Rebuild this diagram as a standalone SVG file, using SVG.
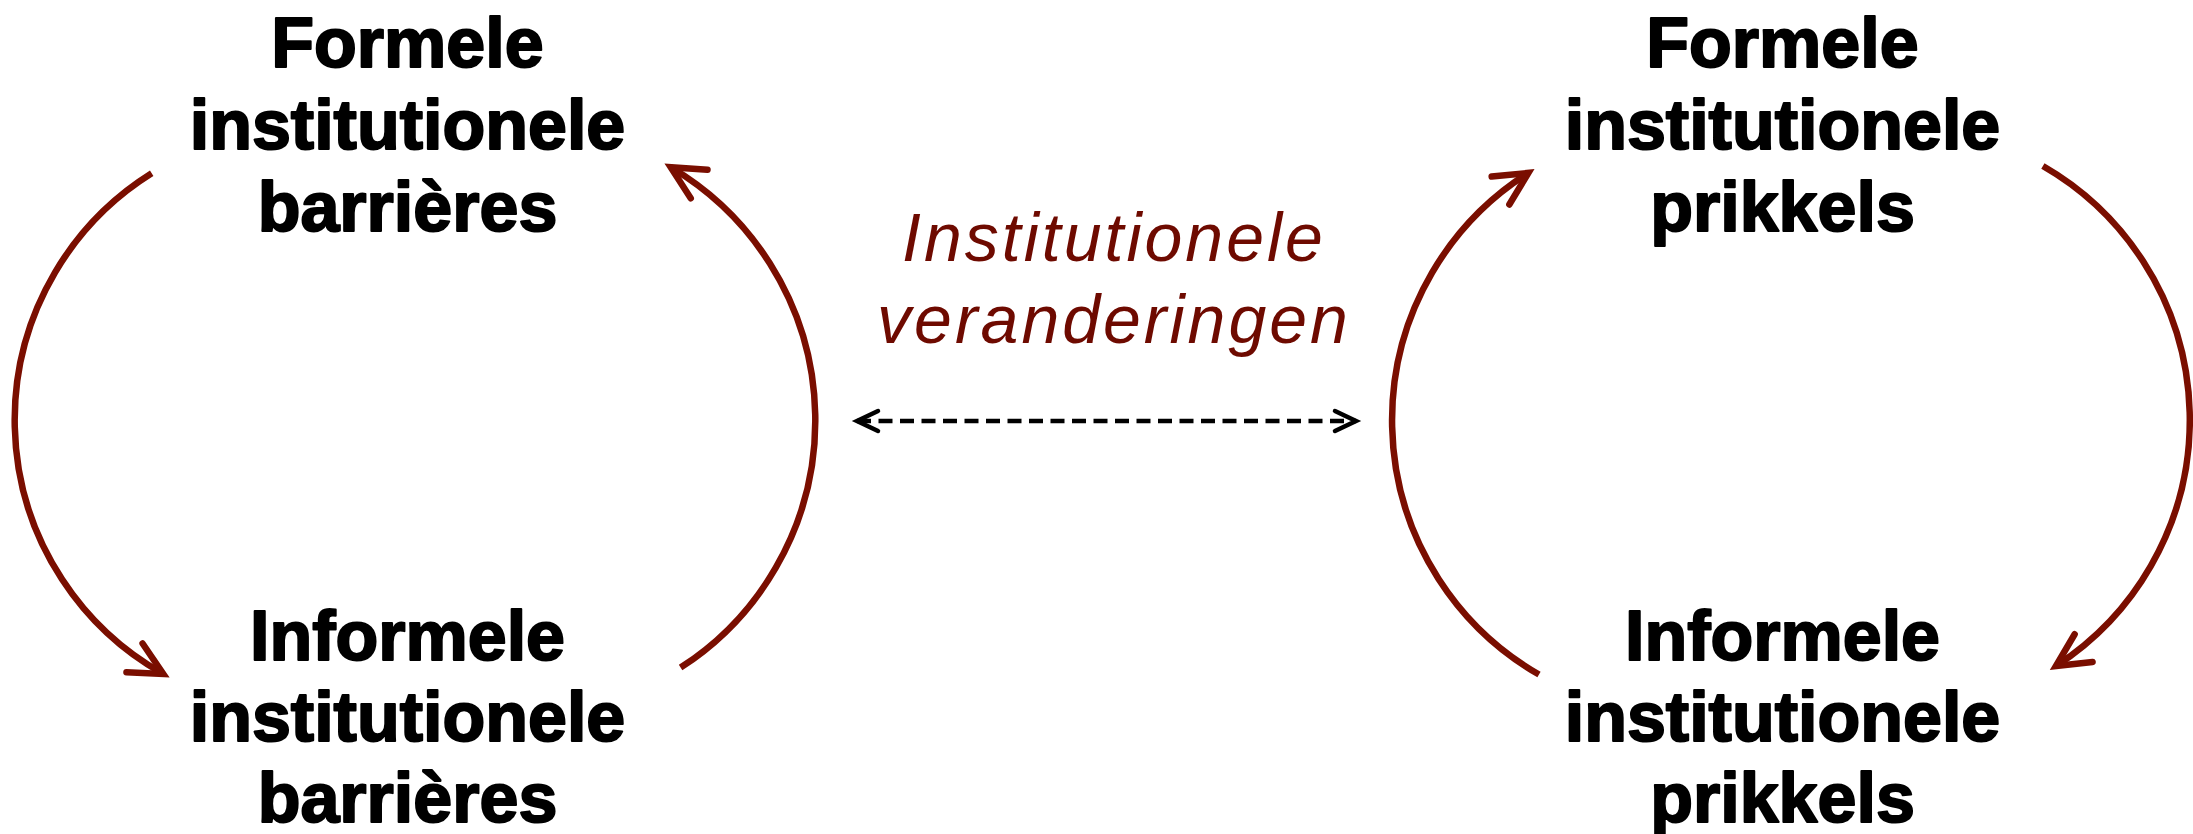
<svg xmlns="http://www.w3.org/2000/svg" width="2193" height="834" viewBox="0 0 2193 834">
  <style>
    .node { font-family: "Liberation Sans", Arial, sans-serif; font-weight: bold; font-size: 70px; fill: #000; stroke: #000; stroke-width: 2; stroke-linejoin: round; text-anchor: middle; }
    .mid { font-family: "Liberation Sans", Arial, sans-serif; font-style: italic; font-size: 68px; fill: #6e0a00; letter-spacing: 3px; text-anchor: middle; }
    .arc { fill: none; stroke: #7a0e00; stroke-width: 6.5; }
    .dash { fill: none; stroke: #000; stroke-width: 4.5; stroke-dasharray: 14 7.5; }
  </style>
  <defs>
    <marker id="redHead" markerUnits="userSpaceOnUse" viewBox="-40 -22 46 44" refX="0" refY="0" markerWidth="46" markerHeight="44" orient="auto" overflow="visible">
      <path d="M -33 -16.5 L 0 0 L -33 16.5" fill="none" stroke="#7a0e00" stroke-width="6.5" stroke-linecap="round" stroke-linejoin="miter"/>
    </marker>
    <marker id="blackHeadEnd" markerUnits="userSpaceOnUse" viewBox="-30 -16 36 32" refX="0" refY="0" markerWidth="36" markerHeight="32" orient="auto" overflow="visible">
      <path d="M -21 -10 L 0 0 L -21 10" fill="none" stroke="#000" stroke-width="4.5" stroke-linecap="round" stroke-linejoin="miter"/>
    </marker>
    <marker id="blackHeadStart" markerUnits="userSpaceOnUse" viewBox="-6 -16 36 32" refX="0" refY="0" markerWidth="36" markerHeight="32" orient="auto" overflow="visible">
      <path d="M 21 -10 L 0 0 L 21 10" fill="none" stroke="#000" stroke-width="4.5" stroke-linecap="round" stroke-linejoin="miter"/>
    </marker>
  </defs>

  <g id="connectors">
    <path id="arc-left-outer" class="arc" d="M 151.7 173.3 A 291 291 0 0 0 163.3 674" marker-end="url(#redHead)"/>
    <path id="arc-left-inner" class="arc" d="M 680.6 667.6 A 294 294 0 0 0 670.7 167.3" marker-end="url(#redHead)"/>
    <path id="arc-right-inner" class="arc" d="M 1539 674.5 A 293 293 0 0 1 1528.4 172.9" marker-end="url(#redHead)"/>
    <path id="arc-right-outer" class="arc" d="M 2042.9 166 A 293 293 0 0 1 2055.9 666" marker-end="url(#redHead)"/>
    <path id="dashed-link" class="dash" d="M 857 421 L 1356 421" marker-start="url(#blackHeadStart)" marker-end="url(#blackHeadEnd)"/>
  </g>

  <g id="node-formele-barrieres">
    <text class="node" x="407.5" y="66.5">Formele</text>
    <text class="node" x="407.5" y="149">institutionele</text>
    <text class="node" x="407.5" y="231">barrières</text>
  </g>
  <g id="node-informele-barrieres">
    <text class="node" x="407.5" y="660">Informele</text>
    <text class="node" x="407.5" y="741">institutionele</text>
    <text class="node" x="407.5" y="822">barrières</text>
  </g>
  <g id="node-formele-prikkels">
    <text class="node" x="1782.5" y="66.5">Formele</text>
    <text class="node" x="1782.5" y="149">institutionele</text>
    <text class="node" x="1782.5" y="231">prikkels</text>
  </g>
  <g id="node-informele-prikkels">
    <text class="node" x="1782.5" y="660">Informele</text>
    <text class="node" x="1782.5" y="741">institutionele</text>
    <text class="node" x="1782.5" y="822">prikkels</text>
  </g>
  <g id="label-veranderingen">
    <text class="mid" x="1114" y="261">Institutionele</text>
    <text class="mid" x="1114" y="343">veranderingen</text>
  </g>
</svg>
